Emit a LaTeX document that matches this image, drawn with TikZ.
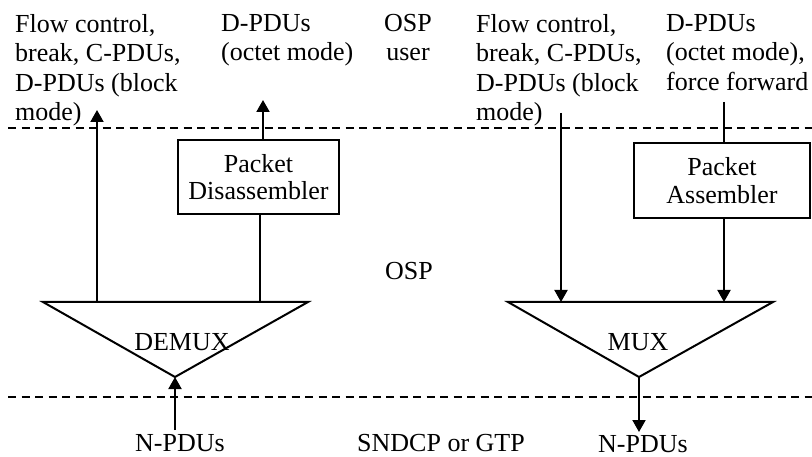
\documentclass[tikz,border=0pt]{standalone}
\usepackage{fontspec}
\setmainfont{Liberation Serif}
\usetikzlibrary{arrows.meta}
\begin{document}
\begin{tikzpicture}[x=1pt,y=-1pt,
  txt/.style={inner sep=0pt, font=\fontsize{26}{29.5}\selectfont},
  ln/.style={line width=2pt},
  arr/.style={ln, -{Triangle[length=12pt,width=13pt]}},
  dsh/.style={line width=2pt, dash pattern=on 8pt off 5.5pt},
  box/.style={draw, line width=2pt, inner sep=0pt, align=center, font=\fontsize{26}{27.5}\selectfont}]
\useasboundingbox (0,0) rectangle (812,457);
% layer separators
\coordinate (d1a) at (8,128); \coordinate (d1b) at (812,128);
\coordinate (d2a) at (8,397); \coordinate (d2b) at (812,397);
\draw[dsh] (d1a) -- (d1b);
\draw[dsh] (d2a) -- (d2b);
% triangles
\coordinate (dl) at (43,302); \coordinate (dr) at (308,302); \coordinate (dap) at (175,377);
\coordinate (ml) at (508,302); \coordinate (mr) at (773,302); \coordinate (map) at (639,377);
\draw[ln, line join=miter] (dl) -- (dr) -- (dap) -- cycle;
\draw[ln, line join=miter] (ml) -- (mr) -- (map) -- cycle;
\node[txt, anchor=base] (demux) at (182,351) {DEMUX};
\node[txt, anchor=base] (mux) at (638,351) {MUX};
% boxes
\node[box, minimum width=161pt, minimum height=74pt] (pd) at (258.5,177) {Packet\\Disassembler};
\node[box, minimum width=176pt, minimum height=75pt] (pa) at (722,180.5) {Packet\\Assembler};
% top texts
\node[txt, anchor=north west, align=left] (t1) at (15,14) {Flow control,\\break, C-PDUs,\\D-PDUs (block\\mode)};
\node[txt, anchor=north west, align=left] (t2) at (221,14) {D-PDUs\\(octet mode)};
\node[txt, anchor=north, align=center] (t3) at (408,14) {OSP\\user};
\node[txt, anchor=north west, align=left] (t4) at (476,14) {Flow control,\\break, C-PDUs,\\D-PDUs (block\\mode)};
\node[txt, anchor=north west, align=left] (t5) at (666,14) {D-PDUs\\(octet mode),\\force forward};
\node[txt, anchor=base] (osp) at (409,280) {OSP};
\node[txt, anchor=base] (n1) at (180,451) {N-PDUs};
\node[txt, anchor=base] (sg) at (441,451) {SNDCP or GTP};
\node[txt, anchor=base] (n2) at (643,452) {N-PDUs};
% connectors
\coordinate (a1s) at (97,302); \coordinate (a1e) at (97,110);
\draw[arr] (a1s) -- (a1e);
\coordinate (pdb) at (260,302);
\draw[ln] (pd.south -| pdb) -- (pdb);
\coordinate (pdt) at (263,100);
\draw[arr] (pd.north -| pdt) -- (pdt);
\coordinate (m1s) at (561,113); \coordinate (m1e) at (561,302);
\draw[arr] (m1s) -- (m1e);
\coordinate (pat) at (724,102);
\draw[ln] (pat) -- (pa.north -| pat);
\coordinate (pab) at (724,302);
\draw[arr] (pa.south -| pab) -- (pab);
\coordinate (nin) at (175,430);
\draw[arr] (nin) -- (dap);
\coordinate (nout) at (639,432);
\draw[arr] (map) -- (nout);
\end{tikzpicture}
\end{document}
